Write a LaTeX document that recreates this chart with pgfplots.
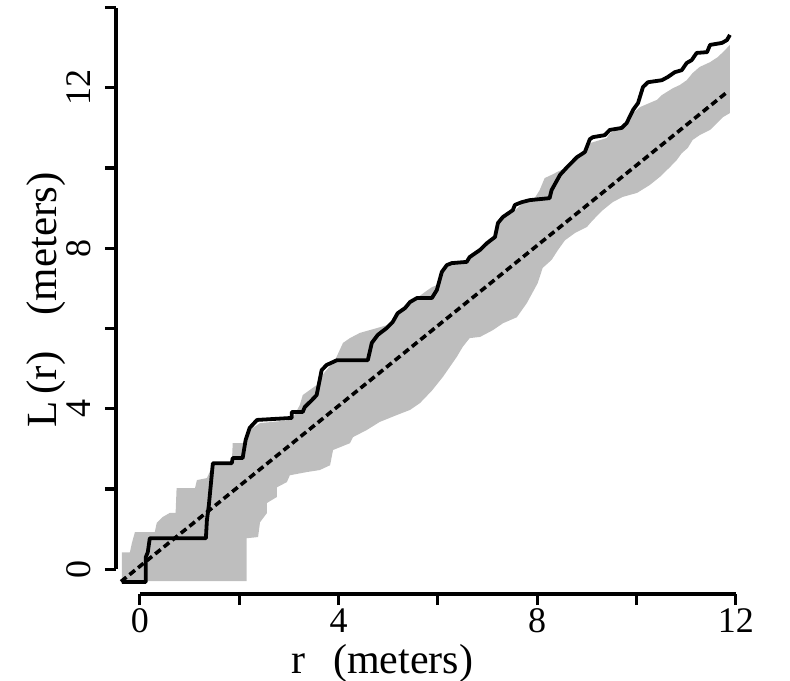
\documentclass[border=0pt]{standalone}
\usepackage{fontspec}
\setmainfont{Liberation Serif}
\usepackage{pgfplots}
\pgfplotsset{compat=1.18}
\definecolor{envgray}{RGB}{190,190,190}
\begin{document}
\begin{tikzpicture}
\begin{axis}[
 scale only axis, width=337pt, height=297pt,
 xmin=-0.48, xmax=13.09, ymin=-0.62, ymax=14.19,
 axis x line=bottom, axis y line=left,
 axis line style={draw=none},
 xtick={0,2,...,12}, xticklabels={0,,4,,8,,12},
 ytick={0,2,...,14}, yticklabels={0,,4,,8,,12,},
 tick align=outside, major tick length=5.5pt,
 tick style={line width=1.6pt, black},
 ticklabel style={font=\fontsize{18}{20}\selectfont},
 yticklabel style={rotate=90, anchor=south, inner sep=0pt},
 xticklabel style={anchor=north, inner sep=0pt},
 yticklabel shift=7pt, xticklabel shift=1.5pt,
 clip=false,
]
\addplot[fill=envgray, draw=none] coordinates {
(-0.36,0.42) (-0.20,0.42) (-0.16,0.65) (-0.10,0.92) (0.30,0.92) (0.34,1.15) (0.46,1.30) (0.60,1.40) (0.72,1.40) (0.74,2.02) (1.11,2.02) (1.15,2.22) (1.35,2.27) (1.47,2.60) (1.85,2.60) (1.87,3.14) (2.07,3.14) (2.13,3.25) (2.21,3.47) (2.42,3.64) (3.06,3.72) (3.22,4.09) (3.28,4.34) (3.56,4.59) (3.72,4.91) (3.93,5.21) (4.09,5.64) (4.23,5.76) (4.43,5.89) (4.63,5.96) (4.83,6.03) (4.97,6.08) (5.13,6.26) (5.27,6.48) (5.44,6.66) (5.58,6.76) (5.74,6.91) (5.88,7.03) (5.98,7.08) (6.08,7.41) (6.18,7.58) (6.58,7.71) (6.85,7.96) (7.15,8.28) (7.25,8.70) (7.51,8.90) (7.69,9.10) (7.95,9.25) (8.05,9.45) (8.15,9.75) (8.29,9.83) (8.40,9.90) (8.60,10.02) (8.80,10.27) (8.96,10.40) (9.06,10.62) (9.40,10.75) (9.46,10.87) (9.72,11.02) (9.93,11.37) (10.07,11.52) (10.41,11.70) (10.51,11.82) (10.73,11.99) (10.87,12.07) (11.01,12.19) (11.13,12.37) (11.27,12.52) (11.48,12.64) (11.64,12.77) (11.78,12.94) (11.88,13.07)
(11.88,11.37) (11.74,11.27) (11.62,11.12) (11.48,10.95) (11.27,10.82) (11.13,10.70) (11.03,10.50) (10.91,10.37) (10.81,10.20) (10.67,10.02) (10.47,9.78) (10.27,9.58) (10.01,9.38) (9.72,9.28) (9.52,9.15) (9.32,8.95) (9.12,8.70) (9.00,8.53) (8.76,8.38) (8.56,8.20) (8.42,7.96) (8.29,7.71) (8.11,7.51) (8.01,7.13) (7.79,6.63) (7.59,6.28) (7.31,6.13) (7.11,5.96) (6.85,5.79) (6.64,5.76) (6.50,5.54) (6.38,5.29) (6.24,5.04) (6.10,4.79) (5.88,4.45) (5.64,4.14) (5.44,3.97) (5.17,3.84) (4.83,3.67) (4.57,3.47) (4.29,3.29) (4.23,3.14) (3.89,2.97) (3.83,2.59) (3.62,2.47) (3.36,2.42) (3.02,2.34) (2.96,2.17) (2.76,2.04) (2.76,1.80) (2.56,1.65) (2.56,1.40) (2.42,1.17) (2.38,0.80) (2.15,0.77) (2.15,-0.30) (-0.36,-0.30)
} -- cycle;
\addplot[black, line width=1.8pt, dash pattern=on 3.5pt off 2pt] coordinates {(-0.38,-0.31) (11.85,11.92)};
\addplot[black, line width=1.9pt, line join=round] coordinates {
(-0.36,-0.32) (0.12,-0.32) (0.12,0.30) (0.16,0.42) (0.20,0.77) (1.33,0.77) (1.35,1.22) (1.39,1.60) (1.47,2.64) (1.85,2.64) (1.87,2.77) (2.07,2.77) (2.13,3.22) (2.21,3.52) (2.36,3.72) (3.06,3.77) (3.06,3.92) (3.28,3.92) (3.32,4.04) (3.46,4.21) (3.56,4.34) (3.66,4.96) (3.76,5.09) (3.97,5.21) (4.59,5.21) (4.67,5.64) (4.79,5.84) (4.97,6.01) (5.09,6.16) (5.19,6.38) (5.34,6.51) (5.44,6.66) (5.58,6.76) (5.88,6.76) (5.98,6.96) (6.08,7.41) (6.18,7.58) (6.28,7.63) (6.58,7.66) (6.64,7.78) (6.85,7.96) (6.99,8.13) (7.15,8.28) (7.21,8.63) (7.31,8.78) (7.51,8.95) (7.55,9.08) (7.69,9.15) (7.85,9.20) (8.25,9.25) (8.29,9.45) (8.46,9.83) (8.60,10.02) (8.80,10.27) (8.96,10.40) (9.06,10.72) (9.12,10.77) (9.36,10.82) (9.46,10.95) (9.70,11.00) (9.80,11.12) (9.93,11.45) (10.03,11.62) (10.13,12.02) (10.23,12.14) (10.51,12.19) (10.63,12.27) (10.77,12.39) (10.91,12.44) (11.01,12.62) (11.11,12.69) (11.21,12.87) (11.42,12.89) (11.48,13.07) (11.72,13.12) (11.82,13.19) (11.88,13.32)
};
\draw[line width=1.6pt] (axis cs:0,-0.62) -- (axis cs:12,-0.62);
\draw[line width=1.6pt] (axis cs:-0.48,0) -- (axis cs:-0.48,14);
\node[anchor=base, font=\fontsize{21}{24}\selectfont] at (axis cs:4.88,-2.6) {r\hspace{14pt}(meters)};
\node[anchor=base, rotate=90, font=\fontsize{21.5}{24}\selectfont] at (axis cs:-1.67,6.71) {L\,(r)\hspace{18pt}(meters)};
\end{axis}
\pgfresetboundingbox
\path ([xshift=-58pt,yshift=-43pt]current axis.south west) rectangle (current axis.north east);
\end{tikzpicture}
\end{document}
